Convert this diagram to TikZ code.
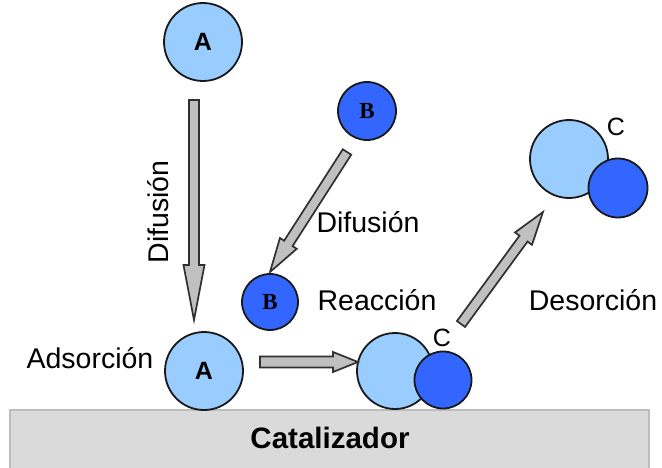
\documentclass[tikz,border=0pt]{standalone}
\usepackage{fontspec}
\setmainfont{Liberation Sans}
\newfontfamily\serifb{Liberation Serif}
\usetikzlibrary{calc}
\definecolor{lightmol}{HTML}{99CCFF}
\definecolor{darkmol}{HTML}{3366FF}
\definecolor{arrowfill}{HTML}{C0C0C0}
\definecolor{arrowline}{HTML}{303030}
\definecolor{catfill}{HTML}{DADADA}
\definecolor{catline}{HTML}{BDBDBD}
\tikzset{
  mol/.style={circle, draw=black!90, line width=1.8pt, inner sep=0pt},
  lightm/.style={mol, fill=lightmol},
  darkm/.style={mol, fill=darkmol},
  blockarrow/.style={draw=arrowline, fill=arrowfill, line width=1.7pt, line join=miter},
  lbl/.style={inner sep=0pt, font=\fontsize{28.5}{34}\selectfont},
  lblA/.style={inner sep=0pt, font=\fontsize{25}{29}\selectfont\bfseries},
  lblB/.style={inner sep=0pt, font=\fontsize{23}{27}\selectfont\serifb\bfseries},
  lblC/.style={inner sep=0pt, font=\fontsize{25}{29}\selectfont},
}
% from, to, shaft half width, head half width, head length
\newcommand\blockarrow[5]{%
  \coordinate (ba-c) at ($(#2)!#5pt!(#1)$);
  \draw[blockarrow] ($(#1)!#3pt!90:(#2)$) -- ($(ba-c)!#3pt!90:(#2)$)
    -- ($(ba-c)!#4pt!90:(#2)$) -- (#2) -- ($(ba-c)!#4pt!-90:(#2)$)
    -- ($(ba-c)!#3pt!-90:(#2)$) -- ($(#1)!#3pt!-90:(#2)$) -- cycle;}
\begin{document}
\begin{tikzpicture}[x=1pt,y=-1pt]
\useasboundingbox (0,0) rectangle (662,468);
\fill[white] (0,0) rectangle (662,468);
% catalyst
\node[draw=catline, fill=catfill, line width=2pt, minimum width=639.5pt, minimum height=70pt, anchor=north west, inner sep=0pt] (cat) at (8.5,409) {};
\node[inner sep=0pt, font=\fontsize{29.5}{34}\selectfont\bfseries] (catl) at (330,438) {Catalizador};
% molecules
\node[lightm, minimum size=78pt] (A1) at (203,42) {};
\node[lblA] at (A1) {A};
\node[lightm, minimum size=78pt] (A2) at (204,371) {};
\node[lblA] at (A2) {A};
\node[darkm, minimum size=58pt] (B1) at (367,111) {};
\node[lblB] at (B1) {B};
\node[darkm, minimum size=56pt] (B2) at (270,302) {};
\node[lblB] at (B2) {B};
\node[lightm, minimum size=76pt] (C1a) at (395,371) {};
\node[darkm, minimum size=57pt] (C1b) at (443,380) {};
\node[lblC] (C1l) at (442,338) {C};
\node[lightm, minimum size=78pt] (C2a) at (569,159) {};
\node[darkm, minimum size=59pt] (C2b) at (618,188) {};
\node[lblC] (C2l) at (616,127) {C};
% arrow end points
\coordinate (a1s) at (194,100);
\coordinate (a1e) at (194,320);
\coordinate (a2s) at (347,152);
\coordinate (a2e) at (270,272);
\coordinate (a3s) at (260,362);
\coordinate (a3e) at (358,362);
\coordinate (a4s) at (461,324);
\coordinate (a4e) at (543,212);
\blockarrow{a1s}{a1e}{5}{10.5}{55}
\blockarrow{a2s}{a2e}{5}{10}{34}
\blockarrow{a3s}{a3e}{5.5}{10}{25}
\blockarrow{a4s}{a4e}{5}{10.5}{33}
% labels
\node[lbl, rotate=90] (t1) at (158,212) {Difusión};
\node[lbl] (t2) at (368,222) {Difusión};
\node[lbl] (t3) at (377,300) {Reacción};
\node[lbl] (t4) at (593,300) {Desorción};
\node[lbl] (t5) at (90,358) {Adsorción};
\end{tikzpicture}
\end{document}
